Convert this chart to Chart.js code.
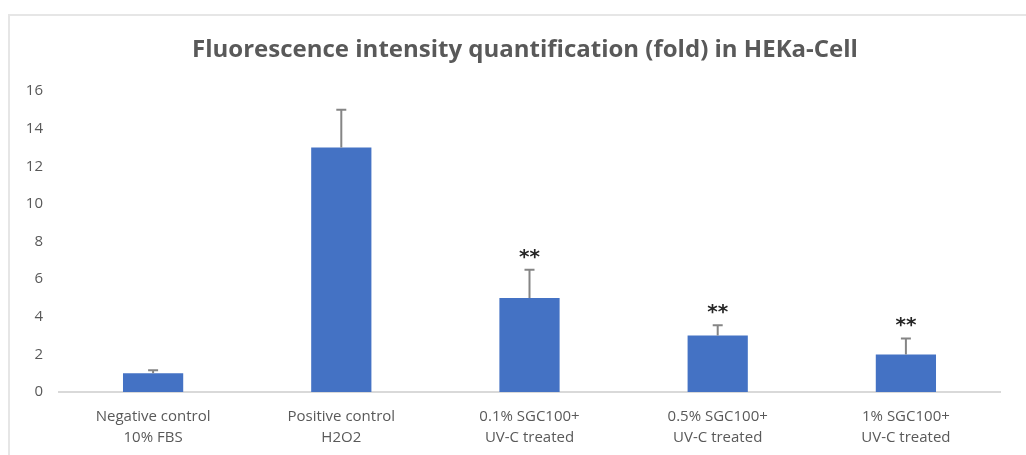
<!DOCTYPE html>
<html>
<head>
<meta charset="utf-8">
<script src="https://cdn.jsdelivr.net/npm/chart.js@4/dist/chart.umd.min.js"></script>
<style>
  html, body { margin: 0; padding: 0; background: #ffffff; }
  #wrap { position: relative; width: 1026px; height: 455px; overflow: hidden; }
  #frame { position: absolute; left: 8px; top: 14px; width: 1040px; height: 460px;
           border-top: 2px solid #e6e6e6; border-left: 2px solid #e6e6e6; box-sizing: border-box; }
  canvas { position: absolute; left: 0; top: 0; }
</style>
</head>
<body>
<div id="wrap">
  <div id="frame"></div>
  <canvas id="chart" width="1026" height="455"></canvas>
</div>
<script>
// Treatment groups (two-line labels)
const categories = [
  ["Negative control", "10% FBS"],
  ["Positive control", "H2O2"],
  ["0.1% SGC100+", "UV-C treated"],
  ["0.5% SGC100+", "UV-C treated"],
  ["1% SGC100+", "UV-C treated"]
];
// Mean fold change and upper error
const foldValues = [1, 13, 5, 3, 2];
const foldErrors = [0.15, 2, 1.5, 0.55, 0.85];
// Significance markers
const significance = ["", "", "**", "**", "**"];
// Y axis
const yTicks = [0, 2, 4, 6, 8, 10, 12, 14, 16];

const chartTitle = 'Fluorescence intensity quantification (fold) in HEKa-Cell';
const textGray = '#595959';
const labelFont = '"Open Sans", "Liberation Sans", sans-serif';

// Chart heading, centred on the framed panel
const headingPlugin = {
  id: 'heading',
  afterDraw(chart) {
    const ctx = chart.ctx;
    ctx.save();
    ctx.fillStyle = textGray;
    ctx.font = 'bold 24px ' + labelFont;
    ctx.textAlign = 'center';
    ctx.textBaseline = 'middle';
    ctx.fillText(chartTitle, 525, 50);
    ctx.restore();
  }
};

// Upper error whiskers and significance stars, positioned through the scales
const errorBarPlugin = {
  id: 'errorBars',
  afterDatasetsDraw(chart) {
    const ctx = chart.ctx;
    const meta = chart.getDatasetMeta(0);
    const y = chart.scales.y;
    ctx.save();
    meta.data.forEach((bar, i) => {
      const x = bar.x;
      const yTop = y.getPixelForValue(foldValues[i]);
      const yErr = y.getPixelForValue(foldValues[i] + foldErrors[i]);
      ctx.strokeStyle = '#858585';
      ctx.lineWidth = 2;
      ctx.beginPath();
      ctx.moveTo(x, yTop);
      ctx.lineTo(x, yErr);
      ctx.moveTo(x - 5, yErr);
      ctx.lineTo(x + 5, yErr);
      ctx.stroke();
      if (significance[i]) {
        ctx.fillStyle = '#262626';
        ctx.font = 'bold 20px "DejaVu Sans", sans-serif';
        ctx.textAlign = 'center';
        ctx.textBaseline = 'alphabetic';
        ctx.fillText(significance[i], x, yErr - 7);
      }
    });
    ctx.restore();
  }
};

new Chart(document.getElementById('chart'), {
  type: 'bar',
  data: {
    labels: categories,
    datasets: [{
      data: foldValues,
      backgroundColor: '#4472C4',
      borderWidth: 0,
      barPercentage: 0.64,
      categoryPercentage: 0.5
    }]
  },
  options: {
    responsive: false,
    animation: false,
    devicePixelRatio: 1,
    layout: { padding: { left: 0, right: 26, top: 91, bottom: 0 } },
    plugins: {
      legend: { display: false },
      tooltip: { enabled: false },
      title: { display: false }
    },
    scales: {
      x: {
        grid: { display: false, drawTicks: false },
        border: { display: true, color: '#d9d9d9', width: 2 },
        ticks: {
          color: textGray,
          font: { family: labelFont, size: 15, lineHeight: 1.4 },
          padding: 14,
          maxRotation: 0,
          autoSkip: false
        },
        afterFit(scale) { scale.height = 63; }
      },
      y: {
        min: 0,
        max: 16,
        afterBuildTicks(scale) { scale.ticks = yTicks.map(v => ({ value: v })); },
        grid: { display: false, drawTicks: false },
        border: { display: false },
        ticks: {
          color: textGray,
          font: { family: labelFont, size: 15 },
          padding: 16
        },
        afterFit(scale) { scale.width = 59; }
      }
    }
  },
  plugins: [errorBarPlugin, headingPlugin]
});
</script>
</body>
</html>
